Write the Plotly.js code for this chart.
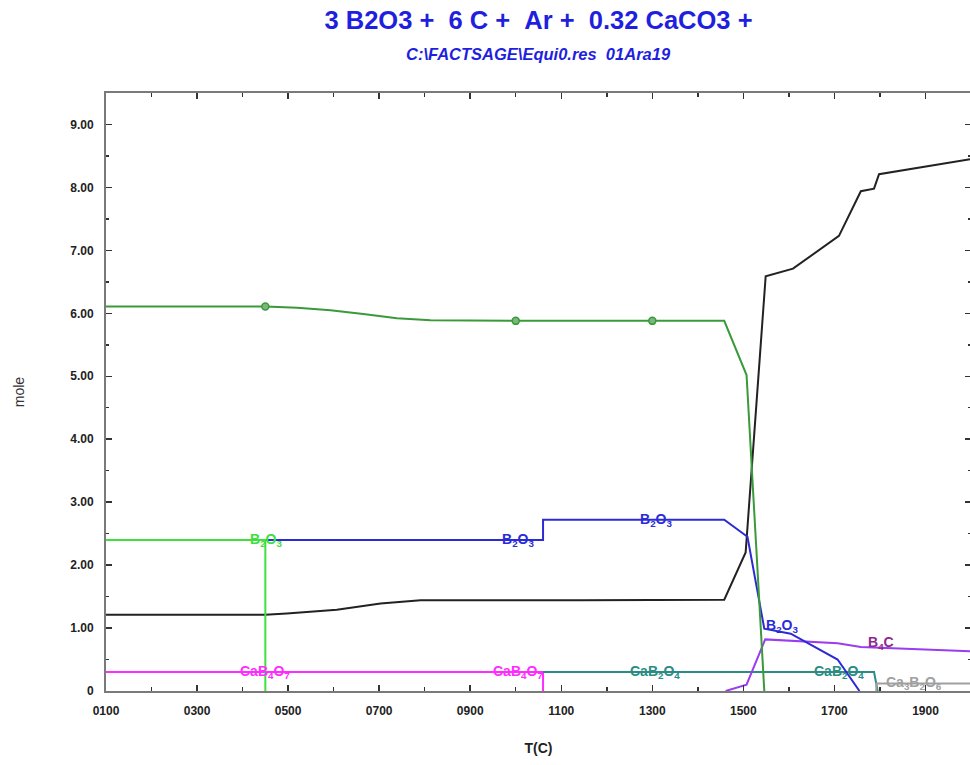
<!DOCTYPE html>
<html>
<head>
<meta charset="utf-8">
<script src="https://cdn.plot.ly/plotly-3.0.1.min.js"></script>
<style>
html,body{margin:0;padding:0;background:#fff;overflow:hidden;}
#chart{width:970px;height:765px;}
</style>
</head>
<body>
<div id="chart"></div>
<script>
// ---------- data (T in °C, amounts in mole) ----------
// B2O3 (dark green, with markers)
const liqT = [100, 450, 520, 593, 665, 739, 813, 1000, 1300, 1458, 1507, 1546];
const liqY = [6.11, 6.11, 6.09, 6.05, 5.99, 5.92, 5.89, 5.88, 5.88, 5.88, 5.02, 0];
const liqMarkT = [450, 1000, 1300];
const liqMarkY = [6.11, 5.88, 5.88];
// B2O3 (bright green)
const b2o3aT = [100, 450, 450];
const b2o3aY = [2.40, 2.40, 0];
// B2O3 (blue)
const b2o3bT = [450, 1060, 1060, 1458, 1509, 1546, 1604, 1707, 1755];
const b2o3bY = [2.40, 2.40, 2.72, 2.72, 2.45, 0.99, 0.91, 0.50, 0];
// black curve
const gasT = [100, 450, 497, 607, 703, 791, 1142, 1458, 1505, 1549, 1609, 1710, 1758, 1787, 1798, 2000];
const gasY = [1.21, 1.21, 1.23, 1.29, 1.39, 1.44, 1.44, 1.45, 2.20, 6.59, 6.71, 7.23, 7.94, 7.98, 8.21, 8.45];
// CaB4O7 (magenta)
const cab4o7T = [100, 1060, 1060];
const cab4o7Y = [0.30, 0.30, 0];
// CaB2O4 (teal)
const cab2o4T = [1060, 1787, 1795];
const cab2o4Y = [0.30, 0.30, 0];
// B4C (violet)
const b4cT = [1461, 1507, 1548, 1604, 1707, 1758, 2000];
const b4cY = [0, 0.10, 0.82, 0.80, 0.76, 0.70, 0.63];
// Ca3B2O6 (grey)
const ca3b2o6T = [1792, 1792, 2000];
const ca3b2o6Y = [0, 0.12, 0.12];

// tick labels
const xTickVals = [100, 300, 500, 700, 900, 1100, 1300, 1500, 1700, 1900];
const xTickText = ["0100", "0300", "0500", "0700", "0900", "1100", "1300", "1500", "1700", "1900"];
const yTickVals = [0, 1, 2, 3, 4, 5, 6, 7, 8, 9];
const yTickText = ["0", "1.00", "2.00", "3.00", "4.00", "5.00", "6.00", "7.00", "8.00", "9.00"];

// curve labels
const labelText = ["B<sub>2</sub>O<sub>3</sub>", "B<sub>2</sub>O<sub>3</sub>", "B<sub>2</sub>O<sub>3</sub>", "B<sub>2</sub>O<sub>3</sub>",
  "B<sub>4</sub>C", "CaB<sub>4</sub>O<sub>7</sub>", "CaB<sub>4</sub>O<sub>7</sub>", "CaB<sub>2</sub>O<sub>4</sub>", "CaB<sub>2</sub>O<sub>4</sub>",
  "Ca<sub>3</sub>B<sub>2</sub>O<sub>6</sub>"];
const labelT = [452, 1005, 1307, 1585, 1802, 450, 1004, 1305, 1710, 1875];
const labelY = [2.40, 2.40, 2.72, 1.04, 0.76, 0.30, 0.30, 0.30, 0.30, 0.12];
const labelColor = ["#3ee03e", "#2b2bd6", "#2b2bd6", "#2b2bd6", "#8e2a8e", "#ff2cff", "#ff2cff", "#2a8c82", "#2a8c82", "#a0a0a0"];

// ---------- traces ----------
function line(x, y, color) {
  return {x: x, y: y, type: 'scatter', mode: 'lines', line: {color: color, width: 2}, hoverinfo: 'x+y', showlegend: false};
}
const traces = [
  line(cab4o7T, cab4o7Y, '#ff2cff'),
  line(cab2o4T, cab2o4Y, '#2a8c82'),
  line(ca3b2o6T, ca3b2o6Y, '#a0a0a0'),
  line(b4cT, b4cY, '#9a3cf0'),
  line(gasT, gasY, '#222222'),
  line(b2o3bT, b2o3bY, '#2b2bd6'),
  line(b2o3aT, b2o3aY, '#3ee03e'),
  line(liqT, liqY, '#3a9a3a'),
  {x: liqMarkT, y: liqMarkY, type: 'scatter', mode: 'markers', showlegend: false,
   marker: {symbol: 'circle', size: 7, color: '#7ab87a', line: {color: '#3a9a3a', width: 1.5}}}
];

const annotations = labelText.map((t, i) => ({
  x: labelT[i], y: labelY[i], xref: 'x', yref: 'y', text: '<b>' + t + '</b>',
  showarrow: false, xanchor: 'center', yanchor: 'middle',
  font: {family: 'Arial, "Liberation Sans", sans-serif', size: 14, color: labelColor[i]}
}));
annotations.push({
  xref: 'paper', yref: 'paper', x: 0.5, y: 1.065, xanchor: 'center', yanchor: 'middle',
  text: '<b><i>C:\\FACTSAGE\\Equi0.res\u00A0\u00A001Ara19</i></b>', showarrow: false,
  font: {family: 'Arial, "Liberation Sans", sans-serif', size: 16.5, color: '#1f1fe0'}
});

const axisCommon = {
  showline: true, linecolor: '#7a7a7a', linewidth: 2, mirror: 'ticks',
  ticks: 'inside', ticklen: 6, tickwidth: 1.5, tickcolor: '#333',
  showgrid: false, zeroline: false, ticklabelstandoff: 8,
  tickfont: {family: 'Arial, "Liberation Sans", sans-serif', size: 12, color: '#222', weight: 'bold'}
};

const layout = {
  width: 971, height: 765,
  margin: {l: 106, r: 0, t: 93, b: 74},
  paper_bgcolor: '#fff', plot_bgcolor: '#fff',
  showlegend: false,
  title: {
    text: '<b>3 B2O3 +\u00A0\u00A06 C +\u00A0\u00A0Ar +\u00A0\u00A00.32 CaCO3 +</b>',
    x: 0.5, xref: 'paper', xanchor: 'center', y: 1 - 20 / 765, yref: 'container', yanchor: 'middle',
    font: {family: 'Arial, "Liberation Sans", sans-serif', size: 25.5, color: '#1f1fe0'}
  },
  xaxis: Object.assign({}, axisCommon, {
    range: [100, 2000], tickmode: 'array', tickvals: xTickVals, ticktext: xTickText,
    minor: {tickmode: 'linear', tick0: 0, dtick: 100, ticks: 'inside', ticklen: 4, tickcolor: '#333', tickwidth: 1.5},
    title: {text: '<b>T(C)</b>', standoff: 26, font: {family: 'Arial, "Liberation Sans", sans-serif', size: 14, color: '#222'}}
  }),
  yaxis: Object.assign({}, axisCommon, {
    range: [0, 9.5], tickmode: 'array', tickvals: yTickVals, ticktext: yTickText,
    minor: {tickmode: 'linear', tick0: 0, dtick: 0.5, ticks: 'inside', ticklen: 3, tickcolor: '#333', tickwidth: 1.5},
    title: {text: 'mole', standoff: 42, font: {family: 'Arial, "Liberation Sans", sans-serif', size: 14, color: '#333'}}
  }),
  annotations: annotations
};

Plotly.newPlot('chart', traces, layout, {displayModeBar: false, staticPlot: true});
</script>
</body>
</html>
